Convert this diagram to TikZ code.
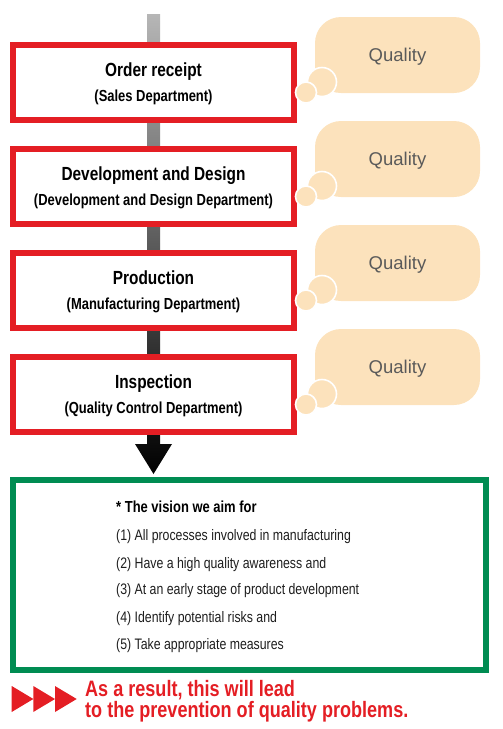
\documentclass[tikz,border=0pt]{standalone}
\usepackage{fontspec}
\usetikzlibrary{calc}
\setmainfont{Liberation Sans}
\newfontfamily\cond[FakeStretch=0.81]{Liberation Sans}
\definecolor{boxred}{RGB}{228,30,36}
\definecolor{boxgreen}{RGB}{0,140,82}
\definecolor{cloudfill}{RGB}{252,226,188}
\definecolor{qualgray}{RGB}{90,90,90}
\definecolor{bodytext}{RGB}{30,30,30}
\tikzset{
  redbox/.style={draw=boxred, line width=6pt, fill=white, minimum width=281pt, minimum height=75pt, inner sep=0pt},
  greenbox/.style={draw=boxgreen, line width=6pt, fill=white, minimum width=473pt, minimum height=190pt, inner sep=0pt},
  titletext/.style={font=\cond\bfseries\fontsize{19}{21}\selectfont, anchor=base, inner sep=0pt},
  subtext/.style={font=\cond\bfseries\fontsize{16}{18}\selectfont, anchor=base, inner sep=0pt},
  blob/.style={fill=cloudfill, rounded corners=26pt, minimum width=165pt, minimum height=76pt, inner sep=0pt,
     text=qualgray, text depth=0pt, font=\fontsize{18.5}{20}\selectfont},
  bubble/.style={circle, fill=cloudfill, draw=white, line width=1.6pt, inner sep=0pt},
  bodyline/.style={font=\cond\fontsize{15.2}{17}\selectfont, text=bodytext, anchor=base west, inner sep=0pt},
  headline/.style={font=\cond\bfseries\fontsize{16}{18}\selectfont, text=black, anchor=base west, inner sep=0pt},
  resulttext/.style={font=\cond\bfseries\fontsize{22.3}{20}\selectfont, text=boxred, anchor=base west, inner sep=0pt},
  redtri/.style={fill=boxred},
}
\begin{document}
\begin{tikzpicture}[x=1pt, y=-1pt]
\useasboundingbox (0,0) rectangle (503,729);

% green box
\node[greenbox] (g) at (249.5,575) {};

% flow arrow
\coordinate (top) at (153.5,14);
\coordinate (hs) at (153.5,444);
\coordinate (tip) at ($(top |- g.north)+(0,-3)$);
\shade[top color={rgb,255:red,182;green,182;blue,182}, bottom color=black]
  ($(top)+(-6.5,0)$) -- ($(top)+(6.5,0)$) -- ($(hs)+(6.5,0)$) -- ($(hs)+(18.5,0)$)
  -- (tip) -- ($(hs)+(-18.5,0)$) -- ($(hs)+(-6.5,0)$) -- cycle;

% process boxes
\foreach \i/\T/\tt/\st in {1/42/Order receipt/(Sales Department),
                          2/146/Development and Design/(Development and Design Department),
                          3/250/Production/(Manufacturing Department),
                          4/354/Inspection/(Quality Control Department)} {
  \node[redbox] (b\i) at (153.5,\T+40) {};
  \node[titletext] (b\i t) at (153.5,\T+34.5) {\tt};
  \node[subtext] (b\i s) at (153.5,\T+59) {\st};
  \node[blob] (c\i) at (397.5,\T+13) {Quality};
  \node[bubble, minimum size=29pt] (c\i a) at (322,\T+40) {};
  \node[bubble, minimum size=21pt] (c\i b) at (306,\T+50.5) {};
}

% vision text
\node[headline] (h) at (116,512.5) {* The vision we aim for};
\node[bodyline] (l1) at (116,540.5) {(1) All processes involved in manufacturing};
\node[bodyline] (l2) at (116,568.2) {(2) Have a high quality awareness and};
\node[bodyline] (l3) at (116,594.9) {(3) At an early stage of product development};
\node[bodyline] (l4) at (116,622.2) {(4) Identify potential risks and};
\node[bodyline] (l5) at (116,649.5) {(5) Take appropriate measures};

% result
\foreach \x in {11.7,33.3,55} {
  \fill[redtri] (\x,686) -- (\x+21.7,699) -- (\x,712) -- cycle;
}
\node[resulttext] (r1) at (85,696.5) {As a result, this will lead};
\node[resulttext] (r2) at (85,717.5) {to the prevention of quality problems.};
\end{tikzpicture}
\end{document}
